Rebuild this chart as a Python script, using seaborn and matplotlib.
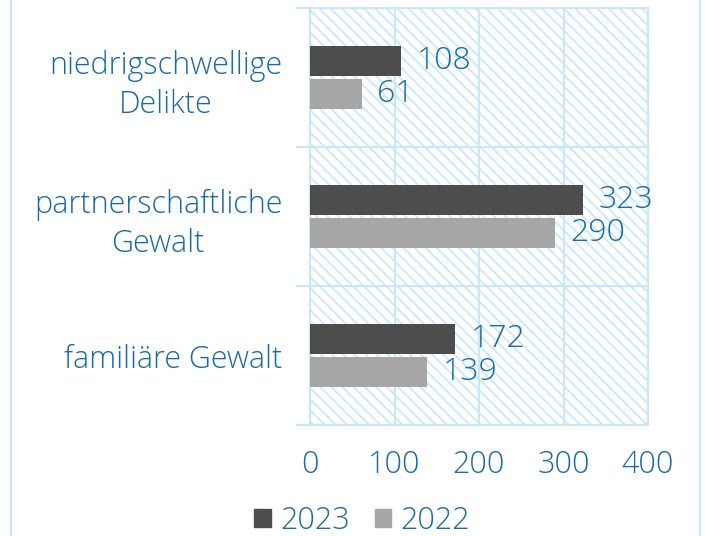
import matplotlib
matplotlib.use("Agg")
import matplotlib.pyplot as plt
import matplotlib.patches as mpatches
import seaborn as sns
import pandas as pd

categories = ["niedrigschwellige\nDelikte", "partnerschaftliche\nGewalt", "familiäre Gewalt"]
years = ["2023", "2022"]
values_2023 = [108, 323, 172]
values_2022 = [61, 290, 139]
x_ticks = [0, 100, 200, 300, 400]

sns.set_theme(style="white")
plt.rcParams["font.family"] = ["Open Sans", "DejaVu Sans"]
plt.rcParams["font.weight"] = "light"
plt.rcParams["hatch.linewidth"] = 1.3

BLUE = "#1a6aa6"
GRID = "#c9e7fa"
HATCH = "#cbe8fb"
colors = {"2023": "#4d4d4d", "2022": "#a6a6a6"}

df = pd.DataFrame({
    "Kategorie": categories * 2,
    "Jahr": ["2023"] * 3 + ["2022"] * 3,
    "Wert": values_2023 + values_2022,
})

fig = plt.figure(figsize=(7.05, 5.36), dpi=100)
ax = fig.add_axes([310 / 705, 1 - 425 / 536, (648 - 310) / 705, (425 - 8) / 536])

# outer frame
fig.patches.append(mpatches.Rectangle((11 / 705, -0.05), (700 - 11) / 705, 1.1,
                                      transform=fig.transFigure, fill=False,
                                      edgecolor=GRID, linewidth=1.5, zorder=0))

# hatched plot background
ax.add_patch(mpatches.Rectangle((0, 0), 1, 1, transform=ax.transAxes, facecolor="white",
                                edgecolor=HATCH, linewidth=0, hatch="\\\\\\", zorder=0))

sns.barplot(data=df, y="Kategorie", x="Wert", hue="Jahr", order=categories,
            hue_order=years, palette=colors, orient="h", width=0.47, gap=0.09,
            ax=ax, saturation=1, zorder=3, legend=False, edgecolor="none")

for cont in ax.containers:
    ax.bar_label(cont, padding=11, color=BLUE, fontsize=23, fontweight="light")

ax.set_xlim(0, 400)
ax.set_ylim(2.5, -0.5)
ax.set_xticks(x_ticks)
ax.set_xticklabels([str(v) for v in x_ticks])
ax.set_yticks([-0.5, 0.5, 1.5, 2.5])
ax.set_yticklabels([])
ax.set_yticks([0, 1, 2], minor=True)
ax.set_yticklabels(categories, minor=True)
for t in ax.get_yticklabels(minor=True):
    t.set_multialignment("center")
    t.set_linespacing(1.3)
ax.tick_params(axis="y", which="major", length=10, width=1.5, color=GRID, left=True)
ax.tick_params(axis="y", which="minor", length=0, pad=20, labelsize=22, labelcolor=BLUE)
ax.tick_params(axis="x", length=0, pad=17, labelsize=22, labelcolor=BLUE)
ax.grid(True, axis="both", which="major", color=GRID, linewidth=1.5, zorder=1)
ax.set_axisbelow(True)
for s in ax.spines.values():
    s.set_color(GRID)
    s.set_linewidth(1.5)
ax.set_xlabel("")
ax.set_ylabel("")

handles = [mpatches.Patch(color=colors[y], label=y) for y in years]
fig.legend(handles=handles, loc="center", bbox_to_anchor=(0.514, 1 - 521 / 536),
           ncol=2, frameon=False, fontsize=22, labelcolor=BLUE,
           handlelength=0.55, handleheight=0.55, handletextpad=0.3, columnspacing=0.8)

fig.savefig("out.png", dpi=100)
